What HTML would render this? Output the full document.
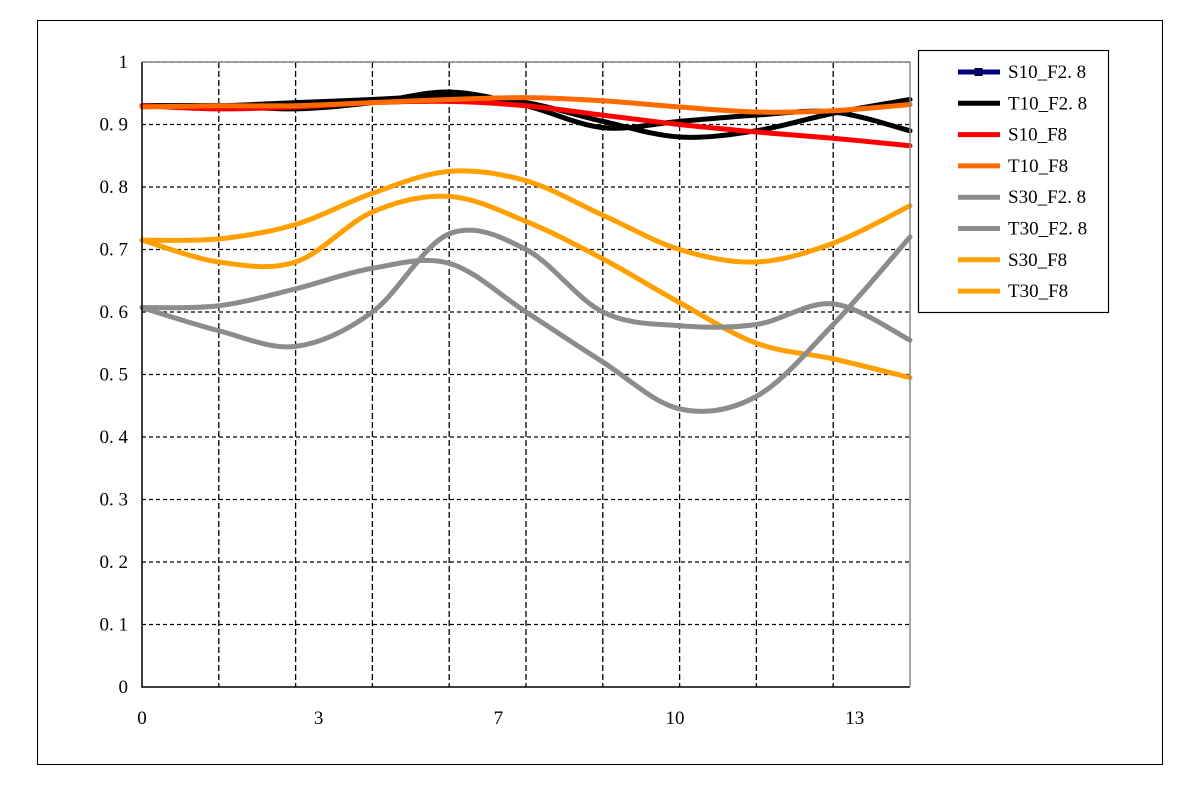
<!DOCTYPE html>
<html><head><meta charset="utf-8"><style>
body{margin:0;background:#fff}
svg text{font-family:"Liberation Serif","Noto Serif CJK SC",serif;font-size:19px;fill:#000}
</style></head><body>
<svg width="1200" height="802">
<rect x="37.5" y="20.5" width="1125" height="744" fill="#fff" stroke="#000" stroke-width="1"/>
<g id="grid"></g>
<g id="series"></g>
<g id="axes"></g>
<g id="legend"></g>
</svg>
<script>
const yTicks=[0,0.1,0.2,0.3,0.4,0.5,0.6,0.7,0.8,0.9,1];
const yTickLabels=["0","0. 1","0. 2","0. 3","0. 4","0. 5","0. 6","0. 7","0. 8","0. 9","1"];
const xTickPos=[0,2.3,4.64,6.94,9.28];
const xTickLabels=["0","3","7","10","13"];
const seriesNames=["S10_F2. 8","T10_F2. 8","S10_F8","T10_F8","S30_F2. 8","T30_F2. 8","S30_F8","T30_F8"];
const seriesColors=["#000","#000","#ff0000","#ff6a00","#8c8c8c","#8c8c8c","#ffa000","#ffa000"];
const s10f28=[0.93,0.93,0.925,0.935,0.952,0.93,0.895,0.905,0.915,0.92,0.89];
const t10f28=[0.93,0.93,0.935,0.94,0.945,0.935,0.905,0.88,0.89,0.918,0.94];
const s10f8=[0.93,0.925,0.928,0.935,0.937,0.93,0.915,0.9,0.888,0.878,0.866];
const t10f8=[0.928,0.93,0.93,0.935,0.94,0.943,0.938,0.928,0.92,0.922,0.932];
const s30f28=[0.607,0.61,0.637,0.67,0.678,0.6,0.52,0.445,0.465,0.58,0.72];
const t30f28=[0.607,0.57,0.545,0.6,0.725,0.70,0.6,0.578,0.58,0.613,0.555];
const s30f8=[0.715,0.717,0.74,0.79,0.825,0.81,0.755,0.7,0.68,0.71,0.77];
const t30f8=[0.715,0.68,0.68,0.76,0.785,0.745,0.685,0.615,0.55,0.525,0.495];
const seriesData=[s10f28,t10f28,s10f8,t10f8,s30f28,t30f28,s30f8,t30f8];
const X0=142,X1=910,Y0=687,Y1=62,NX=10;
const sx=v=>X0+(X1-X0)*v/NX, sy=v=>Y0-(Y0-Y1)*v;
const NS="http://www.w3.org/2000/svg";
function mk(t,a,p){const e=document.createElementNS(NS,t);for(const k in a)e.setAttribute(k,a[k]);p.appendChild(e);return e;}
const grid=document.getElementById('grid'),axes=document.getElementById('axes'),ser=document.getElementById('series'),leg=document.getElementById('legend');
for(let i=1;i<yTicks.length;i++){const y=sy(yTicks[i]);
 const l=mk('line',{x1:X0,x2:X1,y1:y,y2:y,stroke:'#000','stroke-width':1.3,'stroke-dasharray':'4,3'},grid);
 
 }
for(let i=1;i<NX;i++){const x=sx(i);
 const l=mk('line',{x1:x,x2:x,y1:Y1,y2:Y0,stroke:'#000','stroke-width':1.3,'stroke-dasharray':'6,3'},grid);
 
 }
const ax=mk('path',{d:`M${X0},${Y1}V${Y0}H${X1}`,fill:'none',stroke:'#000','stroke-width':1.5},axes);


const rb=mk('path',{d:`M${X0},${Y1}H${X1}V${Y0}`,fill:'none',stroke:'#888','stroke-width':1.5},axes);


yTicks.forEach((v,i)=>{const t=mk('text',{x:128,y:sy(v)+6,'text-anchor':'end'},axes);t.textContent=yTickLabels[i];
 
 });
xTickPos.forEach((v,i)=>{const t=mk('text',{x:sx(v),y:724,'text-anchor':'middle'},axes);t.textContent=xTickLabels[i];
 
 });
function smooth(pts){let d=`M${pts[0][0]},${pts[0][1]}`;
 for(let i=0;i<pts.length-1;i++){const p0=pts[Math.max(i-1,0)],p1=pts[i],p2=pts[i+1],p3=pts[Math.min(i+2,pts.length-1)];
  d+=`C${p1[0]+(p2[0]-p0[0])/6},${p1[1]+(p2[1]-p0[1])/6} ${p2[0]-(p3[0]-p1[0])/6},${p2[1]-(p3[1]-p1[1])/6} ${p2[0]},${p2[1]}`;}
 return d;}
const order=[6,7,4,5,0,1,2,3];
order.forEach(k=>{const pts=seriesData[k].map((v,i)=>[sx(i),sy(v)]);
 const p=mk('path',{d:smooth(pts),fill:'none',stroke:seriesColors[k],'stroke-width':5,'stroke-linecap':'round'},ser);
 
 });
const lb=mk('rect',{x:918.5,y:50.5,width:190,height:262,fill:'#fff',stroke:'#000','stroke-width':1.2},leg);


seriesNames.forEach((n,i)=>{const y=72+i*31.3;
 const c=i===0?'#000080':seriesColors[i];
 const l=mk('line',{x1:958,x2:1000,y1:y,y2:y,stroke:c,'stroke-width':5},leg);
 
 
 if(i===0){const m=mk('rect',{x:975,y:y-3.5,width:7,height:7,fill:'#000080',stroke:'#000'},leg);
  
  }
 const t=mk('text',{x:1008,y:y+6,'font-size':17},leg);t.textContent=n;
 
 });
</script>
</body></html>
